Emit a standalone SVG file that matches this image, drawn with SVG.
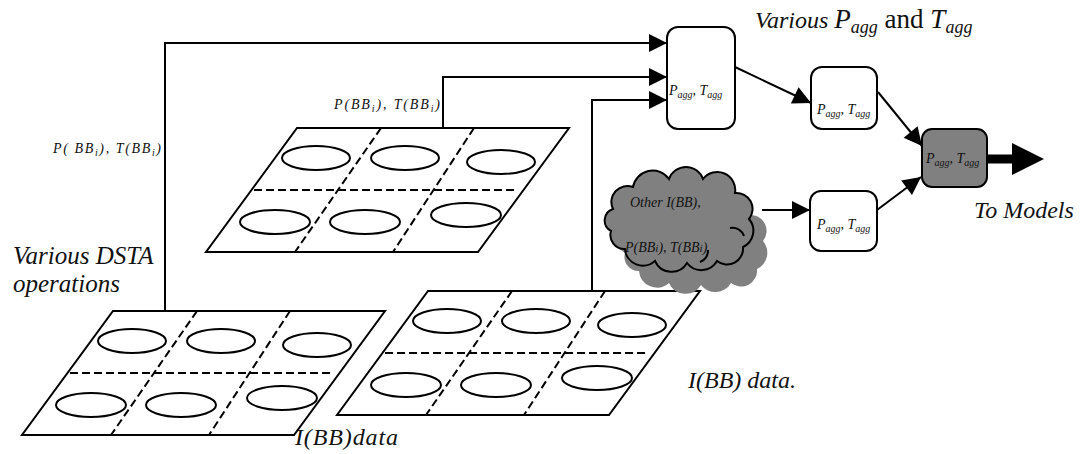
<svg xmlns="http://www.w3.org/2000/svg" xmlns:xlink="http://www.w3.org/1999/xlink" width="1089" height="454" viewBox="0 0 1089 454">
  <style>
    .edge { fill: none; stroke: #000; stroke-width: 2; }
    .plane { fill: #fff; stroke: #000; stroke-width: 2; stroke-linejoin: miter; }
    .dash { fill: none; stroke: #000; stroke-width: 2; stroke-dasharray: 8 4; }
    .cell { fill: #fff; stroke: #000; stroke-width: 2; }
    .box { fill: #fff; stroke: #000; stroke-width: 2; }
    .box.dark { fill: #808080; }
    text { font-family: "Liberation Serif", "Times New Roman", serif; }
    .it { font-style: italic; fill: #111; }
    .up { font-style: normal; fill: #111; }
    .bx { font-size: 14px; }
    .sub { font-size: 10px; }
    .lbl { font-size: 14px; }
    .big { font-size: 24px; }
    .cloud { fill: #808080; stroke: #000; stroke-width: 2; }
    .cloud-shadow { fill: #808080; stroke: none; }
  </style>
  <defs>
    <marker id="head" markerUnits="userSpaceOnUse" markerWidth="18" markerHeight="18" refX="18" refY="9" orient="auto" overflow="visible">
      <path d="M0,0 L18,9 L0,18 Z" fill="#000"/>
    </marker>
    <!-- data plane: skewed sheet split into 2x3 cells, one ellipse per cell -->
    <g id="plane">
      <polygon class="plane" points="0,0 272,0 181,124 -91,124"/>
      <path class="dash" d="M-43,62 H221"/>
      <path class="dash" d="M84,0 L-2,124 M177,0 L96,124"/>
      <ellipse class="cell" cx="19" cy="30" rx="34" ry="12"/>
      <ellipse class="cell" cx="108" cy="30" rx="34" ry="12"/>
      <ellipse class="cell" cx="204" cy="34" rx="34" ry="12"/>
      <ellipse class="cell" cx="-22" cy="94" rx="35" ry="12"/>
      <ellipse class="cell" cx="68" cy="94" rx="35" ry="12"/>
      <ellipse class="cell" cx="169" cy="87" rx="35" ry="12"/>
    </g>
    <!-- cloud outline, local box about 148 x 90 -->
    <path id="cloud-shape" d="M8,34 A16,16 0 0 1 28,12 A20,20 0 0 1 64,4 A18,18 0 0 1 98,4 A18,18 0 0 1 130,18 A16,16 0 0 1 144,44 A18,18 0 0 1 138,72 A16,16 0 0 1 112,86 A18,18 0 0 1 82,88 A18,18 0 0 1 50,86 A18,18 0 0 1 20,74 A14,14 0 0 1 6,56 A12,12 0 0 1 8,34 Z"/>
  </defs>

  <rect width="1089" height="454" fill="#fff"/>

  <!-- connectors -->
  <g id="connectors">
    <path class="edge" d="M165,311 V43 H667" marker-end="url(#head)"/>
    <path class="edge" d="M443,128 V77 H667" marker-end="url(#head)"/>
    <path class="edge" d="M592,291 V100 H667" marker-end="url(#head)"/>
    <path class="edge" d="M735,67 L811,103" marker-end="url(#head)"/>
    <path class="edge" d="M878,92 L922,146" marker-end="url(#head)"/>
    <path class="edge" d="M877,210 L921,177" marker-end="url(#head)"/>
    <path class="edge" d="M762,210 H810" marker-end="url(#head)"/>
    <!-- heavy output arrow -->
    <path d="M986,159 H1014" stroke="#000" stroke-width="9" stroke-linecap="round" fill="none"/>
    <polygon points="1012,143 1044,159 1012,175" fill="#000"/>
  </g>

  <!-- data planes -->
  <g id="plane-upper" transform="translate(297,128)">
    <use xlink:href="#plane" href="#plane"/>
  </g>
  <g id="plane-left" transform="translate(113,311)">
    <use xlink:href="#plane" href="#plane"/>
  </g>
  <g id="plane-right" transform="translate(428,291)">
    <use xlink:href="#plane" href="#plane"/>
  </g>

  <!-- cloud of other inputs -->
  <g id="cloud-other">
    <use class="cloud-shadow" xlink:href="#cloud-shape" href="#cloud-shape" transform="translate(619,197)"/>
    <use class="cloud" xlink:href="#cloud-shape" href="#cloud-shape" transform="translate(605,175)"/>
    <path d="M730,228 A12,12 0 0 1 744,236 M700,262 A12,12 0 0 0 708,250" fill="none" stroke="#000" stroke-width="2"/>
    <text class="it lbl" x="630" y="207">Other I(BB),</text>
    <text class="it lbl" x="625" y="252">P(BB<tspan font-size="11">i</tspan>), T(BB<tspan font-size="11">i</tspan>)</text>
  </g>

  <!-- aggregation boxes -->
  <g id="agg-main">
    <rect class="box" x="667" y="27" width="68" height="102" rx="11"/>
    <text class="it bx" x="669" y="95">P<tspan class="sub" dy="3">agg</tspan><tspan dy="-3">, T</tspan><tspan class="sub" dy="3">agg</tspan></text>
  </g>
  <g id="agg-mid">
    <rect class="box" x="811" y="67" width="66" height="62" rx="11"/>
    <text class="it bx" x="817" y="114">P<tspan class="sub" dy="3">agg</tspan><tspan dy="-3">, T</tspan><tspan class="sub" dy="3">agg</tspan></text>
  </g>
  <g id="agg-other">
    <rect class="box" x="810" y="191" width="67" height="60" rx="11"/>
    <text class="it bx" x="817" y="229">P<tspan class="sub" dy="3">agg</tspan><tspan dy="-3">, T</tspan><tspan class="sub" dy="3">agg</tspan></text>
  </g>
  <g id="agg-final">
    <rect class="box dark" x="922" y="129" width="65" height="58" rx="10"/>
    <text class="it bx" x="926" y="163">P<tspan class="sub" dy="3">agg</tspan><tspan dy="-3">, T</tspan><tspan class="sub" dy="3">agg</tspan></text>
  </g>

  <!-- labels -->
  <text class="it lbl" x="53" y="153" textLength="108" lengthAdjust="spacing">P( BB<tspan class="sub" dy="3">i</tspan><tspan dy="-3">), T(BB</tspan><tspan class="sub" dy="3">i</tspan><tspan dy="-3">)</tspan></text>
  <text class="it lbl" x="334" y="109" textLength="106" lengthAdjust="spacing">P(BB<tspan class="sub" dy="3">i</tspan><tspan dy="-3">), T(BB</tspan><tspan class="sub" dy="3">i</tspan><tspan dy="-3">)</tspan></text>
  <text x="755" y="28"><tspan class="it big">Various </tspan><tspan class="it" font-size="27">P</tspan><tspan class="it" font-size="18" dy="5">agg</tspan><tspan class="up" font-size="27" dy="-5"> and </tspan><tspan class="it" font-size="27">T</tspan><tspan class="it" font-size="18" dy="5">agg</tspan></text>
  <text class="it big" x="974" y="218">To Models</text>
  <text class="it" font-size="25" x="13" y="264">Various DSTA</text>
  <text class="it" font-size="25" x="13" y="292">operations</text>
  <text class="it big" x="295" y="445" textLength="103" lengthAdjust="spacing">I(BB)data</text>
  <text class="it big" x="688" y="388">I(BB) data.</text>
</svg>
